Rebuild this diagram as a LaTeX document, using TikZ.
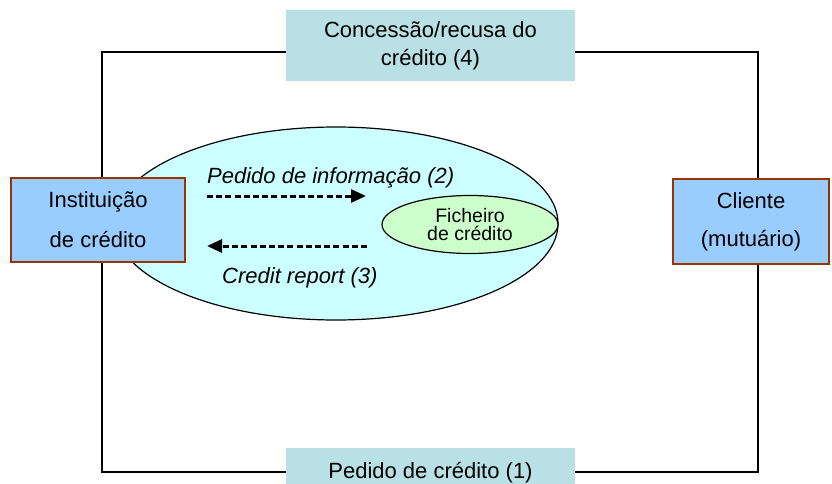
\documentclass[tikz,border=0pt]{standalone}
\usepackage{fontspec}
\setmainfont{Liberation Sans}
\usetikzlibrary{arrows.meta,shapes.geometric}
\definecolor{boxblue}{HTML}{99CCFF}
\definecolor{boxbrown}{HTML}{993300}
\definecolor{tealbox}{RGB}{185,224,228}
\definecolor{cyanell}{HTML}{CCFFFF}
\definecolor{greenell}{HTML}{CCFFCC}
\tikzset{
  party/.style={draw=boxbrown, fill=boxblue, line width=2pt, inner sep=0pt,
    align=center, font=\fontsize{22}{40}\selectfont},
  stagebox/.style={fill=tealbox, inner sep=0pt, align=center,
    minimum width=289pt, font=\fontsize{22}{28}\selectfont},
  frameline/.style={line width=1.8pt, black},
  dasharrow/.style={line width=3pt, dash pattern=on 6pt off 3.2pt,
    -{Triangle[length=15pt,width=13pt]}},
  flowlabel/.style={anchor=base west, inner sep=0pt,
    font=\fontsize{22}{26}\selectfont\itshape}
}
\begin{document}
\begin{tikzpicture}[x=1pt,y=-1pt]
\useasboundingbox (0,0) rectangle (832,484);
% frame
\coordinate (ftl) at (102,52);
\coordinate (fbr) at (758,472);
\draw[frameline] (ftl) rectangle (fbr);
% big ellipse
\node[ellipse, draw=black, line width=1.2pt, fill=cyanell, inner sep=0pt,
  minimum width=444pt, minimum height=193pt] (bigell) at (336,223.5) {};
% parties
\node[party, minimum width=174pt, minimum height=84pt] (inst) at (98,220)
  {Instituição\\de crédito};
\node[party, minimum width=156pt, minimum height=85pt,
  font=\fontsize{22}{38}\selectfont] (cliente) at (751,221.5)
  {Cliente\\(mutuário)};
% credit file
\node[ellipse, draw=black, line width=1.2pt, fill=greenell, inner sep=0pt,
  minimum width=176pt, minimum height=58pt, align=center,
  font=\fontsize{19.5}{18}\selectfont] (ficheiro) at (470,224.5)
  {Ficheiro\\de crédito};
% information flows
\coordinate (a1s) at (207,196);
\coordinate (a1e) at (366,196);
\coordinate (a2s) at (367,246);
\coordinate (a2e) at (207,246);
\draw[dasharrow] (a1s) -- (a1e);
\draw[dasharrow] (a2s) -- (a2e);
\node[flowlabel] (lbl2) at (207,183) {Pedido de informação (2)};
\node[flowlabel] (lbl3) at (222,283) {Credit report (3)};
% stage boxes on the frame
\node[stagebox, minimum height=71pt] (concessao) at (430.5,45.5)
  {Concessão/recusa do\\crédito (4)};
\node[stagebox, minimum height=49pt] (pedido) at (430.5,472.5)
  {Pedido de crédito (1)};
\end{tikzpicture}
\end{document}
